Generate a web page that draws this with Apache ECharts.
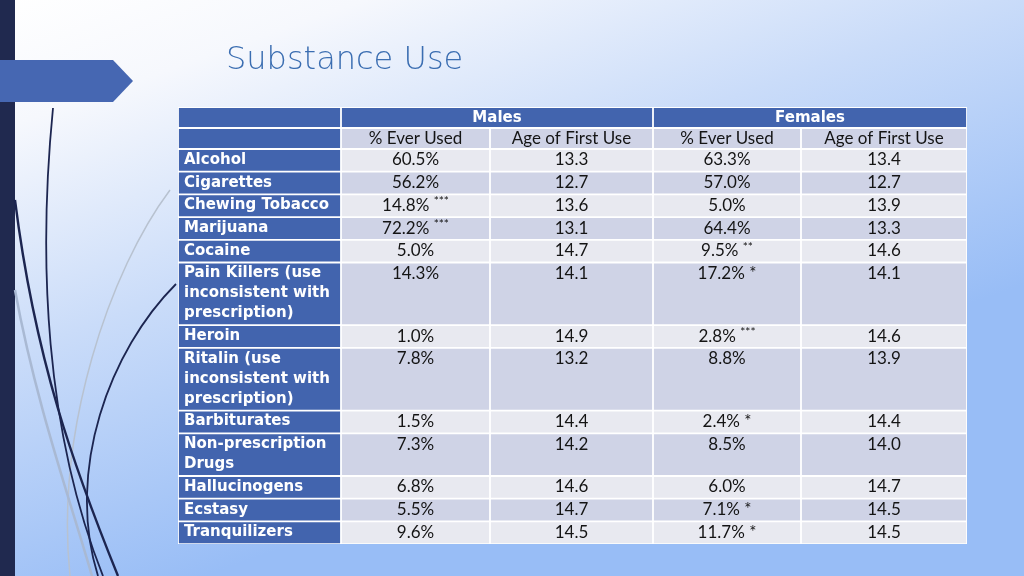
<!DOCTYPE html>
<html>
<head>
<meta charset="utf-8">
<script src="https://cdn.jsdelivr.net/npm/echarts@6/dist/echarts.min.js"></script>
<style>html,body{margin:0;padding:0;}#c{width:1024px;height:576px;}</style>
</head>
<body>
<div id="c"></div>
<script>
// ---- data ----
const title = 'Substance Use';
const groupHeaders = ['Males', 'Females'];
const subHeaders = ['% Ever Used', 'Age of First Use', '% Ever Used', 'Age of First Use'];
const substances = ['Alcohol', 'Cigarettes', 'Chewing Tobacco', 'Marijuana', 'Cocaine',
  'Pain Killers (use\ninconsistent with\nprescription)', 'Heroin',
  'Ritalin (use\ninconsistent with\nprescription)', 'Barbiturates',
  'Non-prescription\nDrugs', 'Hallucinogens', 'Ecstasy', 'Tranquilizers'];
const maleEver = [60.5, 56.2, 14.8, 72.2, 5.0, 14.3, 1.0, 7.8, 1.5, 7.3, 6.8, 5.5, 9.6];
const maleAge = [13.3, 12.7, 13.6, 13.1, 14.7, 14.1, 14.9, 13.2, 14.4, 14.2, 14.6, 14.7, 14.5];
const femaleEver = [63.3, 57.0, 5.0, 64.4, 9.5, 17.2, 2.8, 8.8, 2.4, 8.5, 6.0, 7.1, 11.7];
const femaleAge = [13.4, 12.7, 13.9, 13.3, 14.6, 14.1, 14.6, 13.9, 14.4, 14.0, 14.7, 14.5, 14.5];
const maleSig = ['', '', '***', '***', '', '', '', '', '', '', '', '', ''];
const femaleSig = ['', '', '', '', '**', '*', '***', '', '*', '', '', '*', '*'];

// ---- layout ----
const colEdges = [0, 163, 312, 475, 623, 789];
const headerH = 21;
const lineH = 20;
const rowPad = 2.7;
const BLUE = '#4264ae', DARK = '#cfd3e6', LIGHT = '#e8e9f0';
const LABEL_FONT = 'DejaVu Sans', DATA_FONT = 'Lato';

function fmtPct(v, sig) {
  const s = v.toFixed(1) + '%';
  if (!sig) return s;
  if (sig.length > 1) return s + ' {sup|' + sig + '}';
  return s + ' ' + sig;
}

const cells = [];
cells.push({x0: 0, x1: colEdges[5], y0: 0, y1: 0, fill: '#ffffff', bg: true});
let y = 0;
cells.push({x0: colEdges[0], x1: colEdges[1], y0: y, y1: y + headerH, fill: BLUE, text: ''});
cells.push({x0: colEdges[1], x1: colEdges[3], y0: y, y1: y + headerH, fill: BLUE, text: groupHeaders[0], head: true});
cells.push({x0: colEdges[3], x1: colEdges[5], y0: y, y1: y + headerH, fill: BLUE, text: groupHeaders[1], head: true});
y += headerH;
cells.push({x0: colEdges[0], x1: colEdges[1], y0: y, y1: y + headerH, fill: BLUE, text: ''});
subHeaders.forEach((t, i) => {
  cells.push({x0: colEdges[i + 1], x1: colEdges[i + 2], y0: y, y1: y + headerH, fill: DARK, text: t});
});
y += headerH;
substances.forEach((name, r) => {
  const lines = name.split('\n').length;
  const h = lines * lineH + rowPad;
  const fill = r % 2 === 0 ? LIGHT : DARK;
  cells.push({x0: colEdges[0], x1: colEdges[1], y0: y, y1: y + h, fill: BLUE, text: name, label: true});
  const vals = [fmtPct(maleEver[r], maleSig[r]), maleAge[r].toFixed(1),
                fmtPct(femaleEver[r], femaleSig[r]), femaleAge[r].toFixed(1)];
  vals.forEach((t, i) => {
    cells.push({x0: colEdges[i + 1], x1: colEdges[i + 2], y0: y, y1: y + h, fill: fill, text: t});
  });
  y += h;
});
const tableH = y;
cells[0].y1 = tableH;

function renderItem(params, api) {
  const c = cells[params.dataIndex];
  const p0 = api.coord([c.x0, c.y0]);
  const p1 = api.coord([c.x1, c.y1]);
  const inset = c.bg ? 0 : 0.9;
  const rx = p0[0] + inset, ry = p0[1] + inset;
  const rw = p1[0] - p0[0] - 2 * inset, rh = p1[1] - p0[1] - 2 * inset;
  const children = [{type: 'rect', shape: {x: rx, y: ry, width: rw, height: rh}, style: {fill: c.fill}}];
  if (c.text) {
    let st;
    if (c.label || c.head) {
      st = {
        text: c.text, fill: '#ffffff', fontFamily: LABEL_FONT, fontWeight: 'bold', fontSize: 15,
        lineHeight: lineH, verticalAlign: 'top',
        x: c.label ? p0[0] + 6 : (p0[0] + p1[0]) / 2, y: p0[1] + 1,
        align: c.label ? 'left' : 'center'
      };
    } else {
      st = {
        text: c.text, fill: '#141414', fontFamily: DATA_FONT, fontSize: 17,
        lineHeight: lineH, verticalAlign: 'top', align: 'center',
        x: (p0[0] + p1[0]) / 2, y: p0[1] + 1,
        rich: {sup: {fontFamily: DATA_FONT, fontSize: 12, lineHeight: 13, verticalAlign: 'top', fill: '#141414'}}
      };
    }
    children.push({type: 'text', style: st});
  }
  return {type: 'group', children: children};
}

const chart = echarts.init(document.getElementById('c'), null, {renderer: 'canvas'});
chart.setOption({
  animation: false,
  backgroundColor: {
    type: 'linear', x: 0, y: 0, x2: 0.2, y2: 1,
    colorStops: [
      {offset: 0, color: '#ffffff'},
      {offset: 0.2, color: '#f6f8fd'},
      {offset: 0.55, color: '#cadcf9'},
      {offset: 1, color: '#98bdf6'}
    ]
  },
  graphic: [
    {type: 'rect', left: 0, top: 0, shape: {width: 15, height: 576}, style: {fill: '#20294f'}, z: 1},
    {type: 'polygon', shape: {points: [[0, 60], [113, 60], [133, 81], [113, 102], [0, 102]]}, style: {fill: '#4667b2'}, z: 2},
    {type: 'bezierCurve', shape: {x1: 170, y1: 190, x2: 70, y2: 576, cpx1: 110, cpy1: 270, cpx2: 55, cpy2: 430}, style: {stroke: '#b8c2d0', lineWidth: 1.5, fill: null}, z: 1},
    {type: 'bezierCurve', shape: {x1: 15, y1: 290, x2: 92, y2: 576, cpx1: 35, cpy1: 400, cpx2: 70, cpy2: 500}, style: {stroke: '#a9b9d3', lineWidth: 2.5, fill: null}, z: 1},
    {type: 'bezierCurve', shape: {x1: 53, y1: 108, x2: 103, y2: 576, cpx1: 38, cpy1: 260, cpx2: 45, cpy2: 430}, style: {stroke: '#1c2550', lineWidth: 1.8, fill: null}, z: 1},
    {type: 'bezierCurve', shape: {x1: 15, y1: 200, x2: 118, y2: 576, cpx1: 35, cpy1: 360, cpx2: 75, cpy2: 470}, style: {stroke: '#1c2550', lineWidth: 2.4, fill: null}, z: 1},
    {type: 'bezierCurve', shape: {x1: 176, y1: 284, x2: 98, y2: 576, cpx1: 110, cpy1: 350, cpx2: 65, cpy2: 470}, style: {stroke: '#1c2550', lineWidth: 1.8, fill: null}, z: 1},
    {type: 'text', left: 226, top: 45, style: {text: title, fill: '#3a6db1', fontFamily: 'DejaVu Sans', fontWeight: 300, fontSize: 32}, z: 3}
  ],
  grid: {left: 178, top: 107, width: colEdges[5], height: tableH},
  xAxis: {type: 'value', min: 0, max: colEdges[5], show: false},
  yAxis: {type: 'value', min: 0, max: tableH, inverse: true, show: false},
  series: [{
    type: 'custom',
    renderItem: renderItem,
    clip: false,
    encode: {x: [0, 2], y: [1, 3]},
    data: cells.map(c => [c.x0, c.y0, c.x1, c.y1]),
    z: 5
  }]
});
</script>
</body>
</html>
